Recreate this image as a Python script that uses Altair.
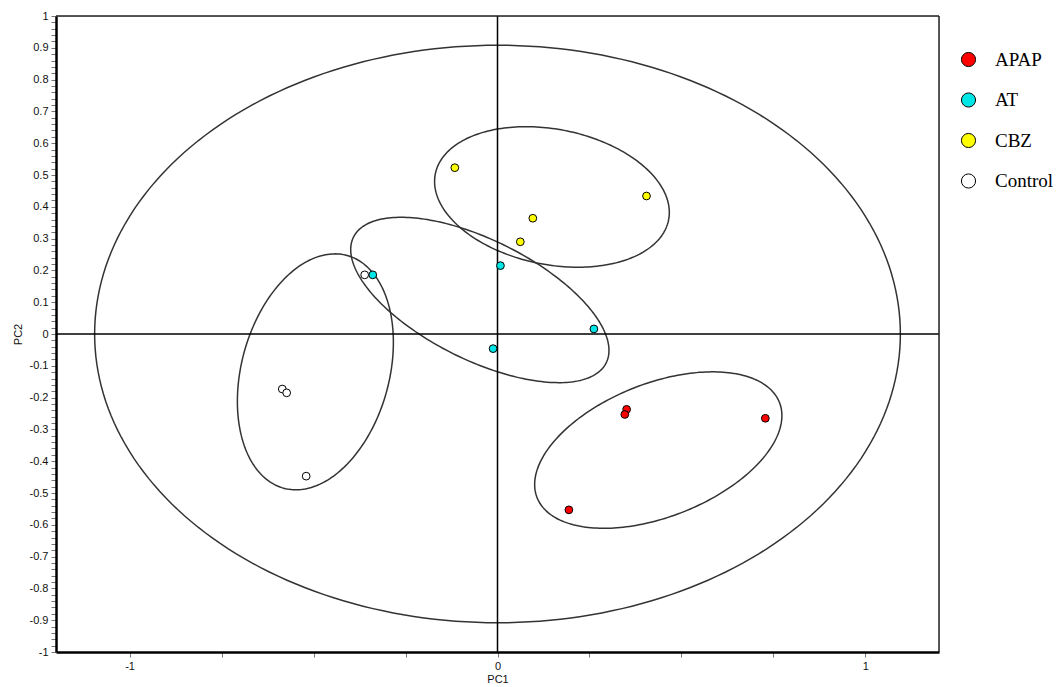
import numpy as np
import pandas as pd
import altair as alt

# ---- data ----
groups = ["APAP", "AT", "CBZ", "Control"]
group_colors = ["#ff0000", "#00e5e5", "#ffff00", "#ffffff"]

apap_x = [0.351, 0.346, 0.728, 0.194]
apap_y = [-0.237, -0.253, -0.265, -0.553]
at_x = [0.008, -0.339, 0.262, -0.012]
at_y = [0.215, 0.186, 0.016, -0.046]
cbz_x = [-0.116, 0.405, 0.096, 0.062]
cbz_y = [0.523, 0.434, 0.364, 0.290]
control_x = [-0.361, -0.585, -0.573, -0.520]
control_y = [0.186, -0.173, -0.185, -0.447]

# ellipses: centre x, centre y, half-width, half-height, shape correlation
ellipse_names = ["Hotelling", "APAP", "AT", "CBZ", "Control"]
ellipse_cx = [0.0, 0.437, -0.048, 0.148, -0.495]
ellipse_cy = [0.0, -0.365, 0.107, 0.431, -0.119]
ellipse_rx = [1.095, 0.336, 0.351, 0.319, 0.212]
ellipse_ry = [0.908, 0.246, 0.260, 0.221, 0.371]
ellipse_rho = [0.0, 0.44, -0.61, -0.22, 0.25]

x_domain = [-1.2, 1.2]
y_domain = [-1.0, 1.0]
x_ticks = [-1.0, -0.75, -0.5, -0.25, 0.0, 0.25, 0.5, 0.75, 1.0]
y_ticks = [round(-1 + 0.02 * i, 2) for i in range(101)]

# ---- tables ----
pts = pd.DataFrame({
    "PC1": apap_x + at_x + cbz_x + control_x,
    "PC2": apap_y + at_y + cbz_y + control_y,
    "group": ["APAP"] * 4 + ["AT"] * 4 + ["CBZ"] * 4 + ["Control"] * 4,
})

t = np.linspace(0, 2 * np.pi, 241)
rows = []
for n, cx, cy, rx, ry, rho in zip(ellipse_names, ellipse_cx, ellipse_cy,
                                   ellipse_rx, ellipse_ry, ellipse_rho):
    s = np.sqrt(1 - rho ** 2)
    for i, tt in enumerate(t):
        rows.append({"name": n, "i": i,
                     "ex": cx + rx * np.cos(tt),
                     "ey": cy + ry * (rho * np.cos(tt) + s * np.sin(tt))})
ell = pd.DataFrame(rows)

xscale = alt.Scale(domain=x_domain, nice=False, zero=False)
yscale = alt.Scale(domain=y_domain, nice=False, zero=False)

xaxis = alt.Axis(values=x_ticks, tickCount=200,
                 labelExpr="datum.value % 1 == 0 ? '' + datum.value : ''",
                 grid=False, tickSize=5, tickColor="#777", domainColor="black",
                 domainWidth=2.5, labelFont="Liberation Sans", labelFontSize=11,
                 labelColor="#111", labelPadding=3, labelOverlap=False, labelFlush=False,
                 title="PC1", titleFont="Liberation Sans", titleFontSize=11,
                 titleFontWeight="normal", titleColor="#111", titlePadding=2)
yaxis = alt.Axis(values=y_ticks, tickCount=200,
                 labelExpr="round(datum.value*50) % 5 == 0 ? '' + datum.value : ''",
                 grid=False, tickSize=5, tickColor="#777", domainColor="black",
                 domainWidth=2.5, labelFont="Liberation Sans", labelFontSize=11,
                 labelColor="#111", labelPadding=3, labelOverlap=False, labelFlush=False,
                 labelBound=False,
                 title="PC2", titleFont="Liberation Sans", titleFontSize=11,
                 titleFontWeight="normal", titleColor="#111", titlePadding=6)

ellipses = alt.Chart(ell).mark_line(color="#333333", strokeWidth=1.5).encode(
    x=alt.X("ex:Q", scale=xscale, axis=xaxis),
    y=alt.Y("ey:Q", scale=yscale, axis=yaxis),
    detail="name:N",
    order="i:Q",
)

zero_v = alt.Chart(pd.DataFrame({"v": [0.0]})).mark_rule(color="black", strokeWidth=1.5).encode(
    x=alt.X("v:Q", scale=xscale))
zero_h = alt.Chart(pd.DataFrame({"v": [0.0]})).mark_rule(color="black", strokeWidth=1.5).encode(
    y=alt.Y("v:Q", scale=yscale))

# frame on the top and right sides of the plot
frame_top = alt.Chart(pd.DataFrame({"v": [y_domain[1]]})).mark_rule(
    color="#222222", strokeWidth=1.5).encode(y=alt.Y("v:Q", scale=yscale))
frame_right = alt.Chart(pd.DataFrame({"v": [x_domain[1]]})).mark_rule(
    color="#222222", strokeWidth=1.5).encode(x=alt.X("v:Q", scale=xscale))

points = alt.Chart(pts).mark_point(filled=True, shape="circle", size=60, stroke="black",
                                   strokeWidth=1, opacity=1).encode(
    x=alt.X("PC1:Q", scale=xscale),
    y=alt.Y("PC2:Q", scale=yscale),
    fill=alt.Fill("group:N", scale=alt.Scale(domain=groups, range=group_colors),
                  legend=alt.Legend(title=None, orient="none", legendX=903, legendY=34,
                                    symbolType="circle", symbolSize=200,
                                    symbolStrokeColor="black", symbolStrokeWidth=1,
                                    labelFont="Liberation Serif", labelFontSize=19,
                                    labelColor="black", labelOffset=17, rowPadding=20.5,
                                    padding=0)),
)

chart = alt.layer(ellipses, zero_v, zero_h, frame_top, frame_right, points).properties(
    width=883, height=636,
    autosize=alt.AutoSizeParams(type="none"),
    padding={"left": 48, "top": 8, "right": 117, "bottom": 33},
).configure_view(stroke="black", strokeWidth=1).configure(background="white")

chart.save("out.html", embed_options={"renderer": "svg", "actions": False})
